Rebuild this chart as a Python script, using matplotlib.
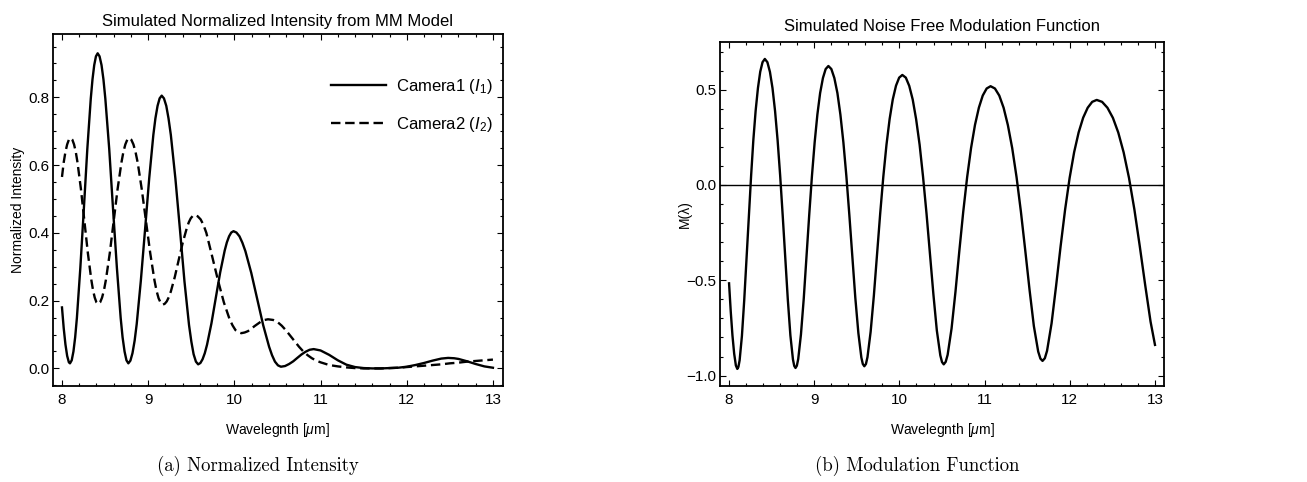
import matplotlib
matplotlib.use("Agg")
import matplotlib.pyplot as plt
from matplotlib.ticker import MultipleLocator

plt.rcParams["font.family"] = ["Liberation Sans", "DejaVu Sans"]
plt.rcParams["mathtext.fontset"] = "custom"
plt.rcParams["mathtext.rm"] = "Liberation Sans"
plt.rcParams["mathtext.it"] = "Liberation Sans:italic"
plt.rcParams["mathtext.bf"] = "Liberation Sans:bold"

# Datos: intensidad normalizada camara 1
lam_i1 = [8.0, 8.02, 8.04, 8.06, 8.08, 8.093,
          8.113, 8.133, 8.153, 8.173, 8.213, 8.254, 8.294, 8.334, 8.354, 8.374, 8.394, 8.414,
          8.436, 8.459, 8.481, 8.503, 8.548, 8.592, 8.637, 8.681, 8.703, 8.726, 8.748, 8.77,
          8.794, 8.818, 8.843, 8.867, 8.915, 8.964, 9.012, 9.06, 9.084, 9.109, 9.133, 9.157,
          9.183, 9.21, 9.236, 9.263, 9.316, 9.369, 9.421, 9.474, 9.501, 9.527, 9.554, 9.58,
          9.606, 9.631, 9.657, 9.683, 9.734, 9.785, 9.836, 9.888, 9.913, 9.939, 9.964, 9.99,
          10.024, 10.059, 10.093, 10.128, 10.196, 10.265, 10.334, 10.403, 10.437, 10.471, 10.506, 10.54,
          10.588, 10.635, 10.683, 10.73, 10.778, 10.825, 10.873, 10.92,
          11.0, 11.1, 11.2, 11.3, 11.4, 11.5, 11.6, 11.7, 11.8, 11.9, 12.0,
          12.1, 12.2, 12.3, 12.4, 12.48, 12.55, 12.6, 12.7, 12.8, 12.9, 13.0]
i1 = [0.18, 0.119, 0.071, 0.037, 0.018, 0.015,
      0.024, 0.050, 0.092, 0.149, 0.297, 0.472, 0.648, 0.796, 0.853, 0.895, 0.921, 0.93,
      0.921, 0.895, 0.853, 0.796, 0.648, 0.472, 0.297, 0.149, 0.092, 0.050, 0.024, 0.015,
      0.023, 0.045, 0.082, 0.131, 0.259, 0.410, 0.561, 0.689, 0.738, 0.775, 0.797, 0.805,
      0.797, 0.775, 0.738, 0.689, 0.560, 0.409, 0.257, 0.128, 0.079, 0.042, 0.020, 0.012,
      0.016, 0.027, 0.045, 0.070, 0.133, 0.209, 0.284, 0.348, 0.372, 0.390, 0.401, 0.405,
      0.401, 0.390, 0.371, 0.346, 0.282, 0.205, 0.128, 0.064, 0.039, 0.020, 0.009, 0.005,
      0.007, 0.013, 0.021, 0.031, 0.041, 0.049, 0.055, 0.057,
      0.053, 0.040, 0.024, 0.011, 0.004, 0.001, 0.0, 0.0, 0.001, 0.002, 0.005,
      0.010, 0.016, 0.023, 0.029, 0.031, 0.030, 0.028, 0.021, 0.013, 0.006, 0.002]

# camara 2
lam_i2 = [8.0, 8.02, 8.04, 8.06, 8.08, 8.10,
          8.12, 8.14, 8.16, 8.18, 8.22, 8.26, 8.30, 8.34, 8.36, 8.38, 8.40, 8.42,
          8.4425, 8.465, 8.4875, 8.51, 8.555, 8.60, 8.645, 8.69, 8.7125, 8.735, 8.7575, 8.78,
          8.804, 8.829, 8.853, 8.878, 8.926, 8.975, 9.024, 9.073, 9.097, 9.121, 9.146, 9.17,
          9.193, 9.216, 9.239, 9.263, 9.309, 9.355, 9.401, 9.448, 9.471, 9.494, 9.517, 9.54,
          9.574, 9.608, 9.641, 9.675, 9.743, 9.81, 9.878, 9.945, 9.979, 10.013, 10.046, 10.08,
          10.119, 10.158, 10.196, 10.235, 10.274, 10.313, 10.351, 10.39,
          10.45, 10.5, 10.55, 10.6, 10.65, 10.7, 10.75, 10.8, 10.85, 10.9, 10.95, 11.0,
          11.1, 11.2, 11.3, 11.4, 11.5, 11.6, 11.7, 11.8, 11.9, 12.0,
          12.1, 12.2, 12.3, 12.4, 12.5, 12.6, 12.7, 12.8, 12.9, 13.0]
i2 = [0.565, 0.608, 0.639, 0.661, 0.675, 0.68,
      0.675, 0.661, 0.639, 0.608, 0.529, 0.435, 0.341, 0.262, 0.231, 0.209, 0.195, 0.19,
      0.195, 0.209, 0.231, 0.262, 0.341, 0.435, 0.529, 0.608, 0.639, 0.661, 0.675, 0.68,
      0.675, 0.661, 0.639, 0.608, 0.528, 0.434, 0.340, 0.260, 0.229, 0.207, 0.193, 0.188,
      0.191, 0.198, 0.210, 0.227, 0.270, 0.321, 0.371, 0.414, 0.431, 0.443, 0.450, 0.453,
      0.449, 0.440, 0.424, 0.400, 0.330, 0.260, 0.195, 0.145, 0.127, 0.113, 0.107, 0.104,
      0.106, 0.110, 0.117, 0.125, 0.132, 0.139, 0.143, 0.145,
      0.143, 0.137, 0.126, 0.112, 0.096, 0.080, 0.064, 0.050, 0.039, 0.030, 0.023, 0.018,
      0.010, 0.006, 0.003, 0.001, 0.0, 0.0, 0.0, 0.001, 0.002, 0.004,
      0.006, 0.008, 0.010, 0.012, 0.015, 0.017, 0.020, 0.022, 0.024, 0.026]

# funcion de modulacion M(lambda)
lam_m = [8.0, 8.02, 8.04, 8.06, 8.08, 8.097,
         8.110, 8.124, 8.151, 8.178, 8.205, 8.232, 8.259, 8.285, 8.312, 8.339, 8.366, 8.393, 8.42,
         8.45, 8.48, 8.51, 8.54, 8.57, 8.60, 8.63, 8.66, 8.69, 8.72, 8.75, 8.765, 8.78,
         8.796, 8.812, 8.844, 8.877, 8.909, 8.941, 8.973, 9.005, 9.037, 9.069, 9.102, 9.134, 9.166,
         9.201, 9.236, 9.272, 9.307, 9.342, 9.377, 9.412, 9.447, 9.482, 9.518, 9.553, 9.570, 9.588,
         9.607, 9.625, 9.662, 9.700, 9.737, 9.774, 9.811, 9.848, 9.885, 9.922, 9.960, 9.997, 10.034,
         10.075, 10.115, 10.156, 10.196, 10.237, 10.277, 10.318, 10.358, 10.399, 10.439, 10.480, 10.500, 10.52,
         10.543, 10.566, 10.612, 10.658, 10.703, 10.749, 10.795, 10.841, 10.887, 10.933, 10.978, 11.024, 11.07,
         11.121, 11.172, 11.223, 11.273, 11.324, 11.375, 11.426, 11.477, 11.528, 11.578, 11.629, 11.655, 11.68,
         11.707, 11.733, 11.786, 11.839, 11.892, 11.945, 11.998, 12.051, 12.104, 12.157, 12.210, 12.263, 12.316,
         12.379, 12.442, 12.506, 12.569, 12.632, 12.695, 12.758, 12.821, 12.885, 12.948, 13.0]
m = [-0.516, -0.665, -0.790, -0.885, -0.947, -0.965,
     -0.954, -0.920, -0.792, -0.605, -0.387, -0.162, 0.049, 0.235, 0.389, 0.508, 0.594, 0.644, 0.661,
     0.644, 0.593, 0.508, 0.388, 0.234, 0.049, -0.162, -0.386, -0.603, -0.789, -0.915, -0.949, -0.960,
     -0.948, -0.913, -0.784, -0.595, -0.378, -0.157, 0.047, 0.224, 0.370, 0.482, 0.561, 0.608, 0.624,
     0.608, 0.561, 0.482, 0.369, 0.224, 0.047, -0.157, -0.375, -0.591, -0.777, -0.905, -0.939, -0.951,
     -0.939, -0.903, -0.770, -0.580, -0.365, -0.151, 0.044, 0.211, 0.346, 0.449, 0.521, 0.563, 0.577,
     0.563, 0.520, 0.448, 0.345, 0.211, 0.044, -0.150, -0.362, -0.575, -0.763, -0.894, -0.929, -0.941,
     -0.928, -0.891, -0.753, -0.560, -0.347, -0.141, 0.041, 0.194, 0.315, 0.406, 0.469, 0.506, 0.518,
     0.506, 0.469, 0.405, 0.314, 0.193, 0.041, -0.140, -0.343, -0.552, -0.740, -0.874, -0.911, -0.923,
     -0.909, -0.870, -0.726, -0.530, -0.322, -0.129, 0.037, 0.172, 0.276, 0.353, 0.405, 0.436, 0.446,
     0.436, 0.405, 0.352, 0.275, 0.171, 0.037, -0.128, -0.320, -0.525, -0.717, -0.839]


def marco(ax, xmin, xmax, ymin, ymax, ymaj, ymin_step, ypad):
    # marco estilo Mathematica: ticks hacia dentro en los 4 lados
    ax.set_xlim(xmin, xmax)
    ax.set_ylim(ymin, ymax)
    ax.xaxis.set_major_locator(MultipleLocator(1))
    ax.xaxis.set_minor_locator(MultipleLocator(0.2))
    ax.yaxis.set_major_locator(MultipleLocator(ymaj))
    ax.yaxis.set_minor_locator(MultipleLocator(ymin_step))
    ax.tick_params(which="both", direction="in", top=True, right=True,
                   labelsize=11, width=0.8)
    ax.tick_params(which="major", length=4.5)
    ax.tick_params(which="minor", length=2.5)
    ax.tick_params(axis="x", pad=5)
    ax.tick_params(axis="y", pad=ypad)
    for s in ax.spines.values():
        s.set_linewidth(1.3)
    ax.set_xlabel(r"Wavelegnth [$\mu$m]", fontsize=10)


fig = plt.figure(figsize=(13.07, 4.82), dpi=100)
ax1 = fig.add_axes([0.0403, 0.1998, 0.3445, 0.7297])
ax2 = fig.add_axes([0.5509, 0.1998, 0.3397, 0.7131])

# (a) intensidades
ax1.plot(lam_i1, i1, color="black", lw=1.7, label=r"Camera1 ($I_1$)")
ax1.plot(lam_i2, i2, color="black", lw=1.7, linestyle=(0, (4, 2)),
         label=r"Camera2 ($I_2$)")
marco(ax1, 7.892, 13.116, -0.051, 0.987, 0.2, 0.05, 2)
ax1.yaxis.set_major_formatter(lambda v, p: f"{v:.1f}")
ax1.set_title("Simulated Normalized Intensity from MM Model", fontsize=12, pad=6)
ax1.set_ylabel("Normalized Intensity", fontsize=10)
ax1.yaxis.set_label_coords(-0.061, 0.5)
ax1.xaxis.set_label_coords(0.5, -0.1)
ax1.legend(loc="upper right", bbox_to_anchor=(0.976, 0.877), frameon=False,
           fontsize=12, handlelength=3.3, handletextpad=0.6, labelspacing=1.13,
           borderpad=0, borderaxespad=0)

# (b) funcion de modulacion
ax2.axhline(0, color="black", lw=1.0)
ax2.plot(lam_m, m, color="black", lw=1.7)
marco(ax2, 7.894, 13.106, -1.053, 0.75, 0.5, 0.1, 2.5)
ax2.yaxis.set_major_formatter(lambda v, p: f"{v:.1f}".replace("-", "\u2212"))
ax2.set_title("Simulated Noise Free Modulation Function", fontsize=12, pad=8)
ax2.set_ylabel("M(λ)", fontsize=10)
ax2.yaxis.set_label_coords(-0.064, 0.5)
ax2.xaxis.set_label_coords(0.5, -0.103)

# subtitulos tipo LaTeX
fig.text(258 / 1307, 1 - 466 / 482, "(a) Normalized Intensity", fontfamily="cmr10",
         fontsize=13.5, ha="center", va="center")
fig.text(917 / 1307, 1 - 466 / 482, "(b) Modulation Function", fontfamily="cmr10",
         fontsize=13.5, ha="center", va="center")

fig.savefig("out.png", dpi=100)
